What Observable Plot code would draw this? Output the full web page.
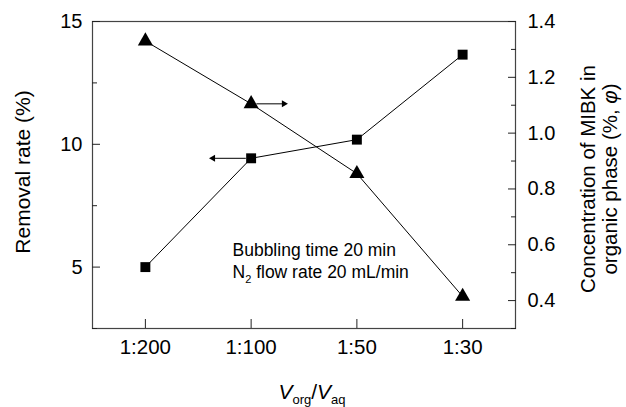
<!DOCTYPE html>
<html>
<head>
<meta charset="utf-8">
<script src="https://cdn.jsdelivr.net/npm/d3@7"></script>
<script src="https://cdn.jsdelivr.net/npm/@observablehq/plot@0.6"></script>
<style>
  html, body { margin: 0; padding: 0; background: white; }
</style>
</head>
<body>
<div id="chart"></div>
<script>
// ---- data ----
const ratios = ["1:200", "1:100", "1:50", "1:30"];
const removalRate = [5.0, 9.43, 10.19, 13.65];      // left axis (%)
const mibkConc = [1.33, 1.105, 0.855, 0.415];        // right axis (%, φ)
const leftTicks = [5, 10, 15];
const leftMinorTicks = [2.5, 7.5, 12.5];
const rightTicks = [0.4, 0.6, 0.8, 1.0, 1.2, 1.4];
const rightMinorTicks = [0.3, 0.5, 0.7, 0.9, 1.1, 1.3];
const leftDomain = [2.5, 15];
const rightDomain = [0.3, 1.4];
const annotationLines = ["Bubbling time 20 min", "N2 flow rate 20 mL/min"];
const leftTitle = "Removal rate (%)";
const rightTitle = ["Concentration of MIBK in", "organic phase (%, φ)"];
const xTitle = "Vorg/Vaq";

// map right-axis values onto the left (plot) y scale
const toLeft = d3.scaleLinear(rightDomain, leftDomain);

const removal = ratios.map((r, i) => ({i, ratio: r, value: removalRate[i]}));
const conc = ratios.map((r, i) => ({i, ratio: r, value: mibkConc[i], y: toLeft(mibkConc[i])}));

// arrows pointing from the 1:100 markers to their axes
const arrowIdx = 1;
const arrows = [
  {y: conc[arrowIdx].y, x1: arrowIdx + 0.05, x2: arrowIdx + 0.30, tip: arrowIdx + 0.31, rot: 90},
  {y: removal[arrowIdx].value, x1: arrowIdx - 0.05, x2: arrowIdx - 0.35, tip: arrowIdx - 0.36, rot: -90}
];

const font = "'Liberation Sans', Arial, Helvetica, sans-serif";

const plot = Plot.plot({
  width: 626,
  height: 407,
  marginLeft: 92,
  marginRight: 111,
  marginTop: 21,
  marginBottom: 79,
  style: {fontFamily: font, fontSize: "20px", background: "white", color: "black"},
  x: {type: "linear", domain: [-0.5, ratios.length - 0.5]},
  y: {domain: leftDomain},
  marks: [
    Plot.frame({stroke: "#444", strokeWidth: 1.2}),
    // left axis
    Plot.axisY({anchor: "left", ticks: leftTicks, tickSize: -8, tickPadding: 18, fontSize: 20, label: null, stroke: "#222"}),
    Plot.axisY({anchor: "left", ticks: leftMinorTicks, tickSize: -5, tickFormat: () => "", label: null, stroke: "#222"}),
    // right axis
    Plot.axisY({anchor: "right", ticks: rightTicks.map(toLeft), tickSize: -8, tickPadding: 20, fontSize: 20,
      tickFormat: v => d3.format(".1f")(toLeft.invert(v)), label: null, stroke: "#222"}),
    Plot.axisY({anchor: "right", ticks: rightMinorTicks.map(toLeft), tickSize: -5, tickFormat: () => "", label: null, stroke: "#222"}),
    // x axis
    Plot.axisX({anchor: "bottom", ticks: ratios.map((_, i) => i), tickSize: -9, tickPadding: 20, fontSize: 20.5,
      tickFormat: i => ratios[i], label: null, stroke: "#222"}),
    // series lines
    Plot.line(removal, {x: "i", y: "value", stroke: "black", strokeWidth: 1}),
    Plot.line(conc, {x: "i", y: "y", stroke: "black", strokeWidth: 1}),
    Plot.dot(removal, {x: "i", y: "value", symbol: "square", r: 5.6, fill: "black", stroke: "none"}),
    Plot.dot(conc, {x: "i", y: "y", symbol: "triangle", r: 5.6, fill: "black", stroke: "none"}),
    // arrows
    Plot.link(arrows, {x1: "x1", x2: "x2", y1: "y", y2: "y", stroke: "black", strokeWidth: 1}),
    Plot.dot(arrows, {x: "tip", y: "y", symbol: "triangle", r: 2.6, rotate: "rot", fill: "black", stroke: "none"}),
    // annotation
    Plot.text([annotationLines[0]], {frameAnchor: "top-left", dx: 140, dy: 222, textAnchor: "start", fontSize: 17.5, fill: "black"}),
    Plot.text([annotationLines[1]], {frameAnchor: "top-left", dx: 140, dy: 244, textAnchor: "start", fontSize: 17.5, fill: "black"}),
    // axis titles
    Plot.text([leftTitle], {frameAnchor: "left", textAnchor: "middle", dx: -69, dy: -3, rotate: -90, fontSize: 21, fill: "black"}),
    Plot.text([rightTitle[0]], {frameAnchor: "right", textAnchor: "middle", dx: 73, dy: 4, rotate: -90, fontSize: 20.5, fill: "black"}),
    Plot.text([rightTitle[1]], {frameAnchor: "right", textAnchor: "middle", dx: 95, dy: 4, rotate: -90, fontSize: 20.5, fill: "black"}),
    Plot.text([xTitle], {frameAnchor: "bottom", dx: 8, dy: 70, fontSize: 21, fill: "black"})
  ]
});

// rich text: subscripts and italics
const svg = d3.select(plot);
svg.selectAll("text").each(function() {
  const t = d3.select(this);
  const s = this.textContent;
  if (s === annotationLines[1]) {
    t.text("");
    t.append("tspan").text("N");
    t.append("tspan").attr("font-size", 11).attr("dy", 5).text("2");
    t.append("tspan").attr("dy", -5).text(" flow rate 20 mL/min");
  } else if (s === rightTitle[1]) {
    t.text("");
    t.append("tspan").text("organic phase (%, ");
    t.append("tspan").attr("font-style", "italic").text("φ");
    t.append("tspan").text(")");
  } else if (s === xTitle) {
    t.text("");
    t.append("tspan").attr("font-style", "italic").text("V");
    t.append("tspan").attr("font-size", 13).attr("dy", 5).text("org");
    t.append("tspan").attr("dy", -5).text("/");
    t.append("tspan").attr("font-style", "italic").text("V");
    t.append("tspan").attr("font-size", 13).attr("dy", 5).text("aq");
  }
});

document.getElementById("chart").append(plot);
</script>
</body>
</html>
